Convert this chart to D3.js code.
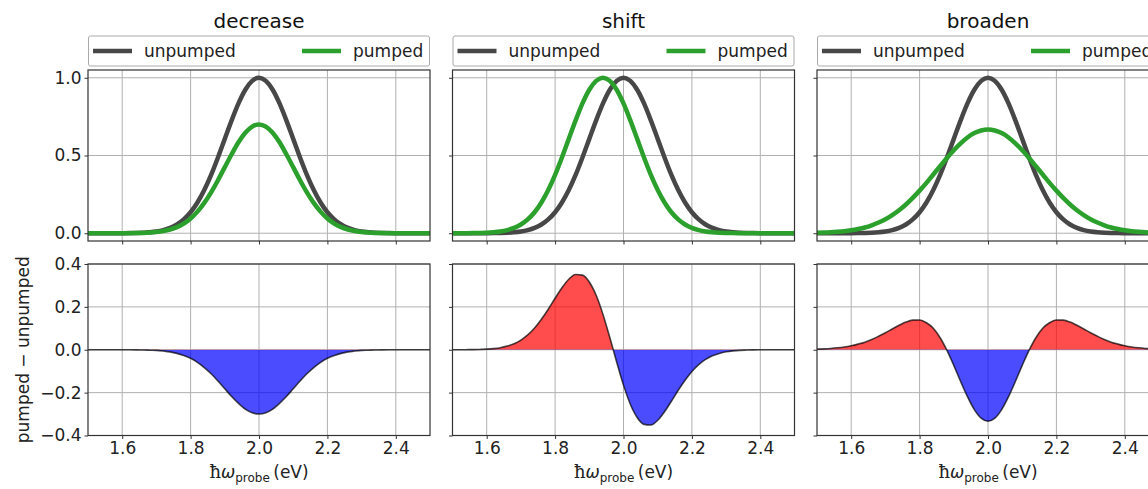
<!DOCTYPE html>
<html>
<head>
<meta charset="utf-8">
<script src="https://cdn.jsdelivr.net/npm/d3@7"></script>
<style>
  html, body { margin: 0; padding: 0; background: #fff; }
  svg { display: block; font-family: "DejaVu Sans", sans-serif; }
</style>
</head>
<body>
<svg id="fig" width="1148" height="489"></svg>
<script>
// Photon energy grid (eV)
const energy = d3.range(0, 51).map(i => +(1.5 + 0.02 * i).toFixed(2));

const titles = ["decrease", "shift", "broaden"];
const seriesNames = ["unpumped", "pumped"];
const xTicks = [1.6, 1.8, 2.0, 2.2, 2.4];
const topTicks = [0.0, 0.5, 1.0];
const diffTicks = [-0.4, -0.2, 0.0, 0.2, 0.4];

// Reference absorption line (same in every panel)
const unpumped = [0,0,0,0,0,0.0003,0.0007,0.0015,0.003,0.006,0.011,0.020,0.034,0.056,0.089,0.135,0.198,0.278,0.375,0.487,0.607,0.726,0.835,0.923,0.980,1.000,0.980,0.923,0.835,0.726,0.607,0.487,0.375,0.278,0.198,0.135,0.089,0.056,0.034,0.020,0.011,0.006,0.003,0.0015,0.0007,0.0003,0,0,0,0,0];

// Pumped line: reduced amplitude
const pumpedDecrease = [0,0,0,0,0,0.0002,0.0005,0.001,0.002,0.004,0.008,0.014,0.024,0.039,0.062,0.095,0.139,0.195,0.263,0.341,0.425,0.508,0.585,0.646,0.686,0.700,0.686,0.646,0.585,0.508,0.425,0.341,0.263,0.195,0.139,0.095,0.062,0.039,0.024,0.014,0.008,0.004,0.002,0.001,0.0005,0.0002,0,0,0,0,0];

// Pumped line: red-shifted centre
const pumpedShift = [0,0,0.0003,0.0007,0.0015,0.003,0.006,0.011,0.020,0.034,0.056,0.089,0.135,0.198,0.278,0.375,0.487,0.607,0.726,0.835,0.923,0.980,1.000,0.980,0.923,0.835,0.726,0.607,0.487,0.375,0.278,0.198,0.135,0.089,0.056,0.034,0.020,0.011,0.006,0.003,0.0015,0.0007,0.0003,0,0,0,0,0,0,0,0];

// Pumped line: broadened, same area
const pumpedBroaden = [0.003,0.004,0.006,0.009,0.013,0.019,0.027,0.037,0.051,0.069,0.090,0.117,0.148,0.185,0.227,0.274,0.324,0.378,0.431,0.484,0.534,0.578,0.616,0.644,0.661,0.667,0.661,0.644,0.616,0.578,0.534,0.484,0.431,0.378,0.324,0.274,0.227,0.185,0.148,0.117,0.090,0.069,0.051,0.037,0.027,0.019,0.013,0.009,0.006,0.004,0.003];

const pumpedSets = [pumpedDecrease, pumpedShift, pumpedBroaden];

const svg = d3.select("#fig");
const colLeft = [88, 452.5, 817];
const panelW = 342;
const topY = [70, 241];
const botY = [264, 435.5];

const grey = "#474747", green = "#2ca02c";

titles.forEach((title, c) => {
  const x0 = colLeft[c];
  const x = d3.scaleLinear().domain([1.5, 2.5]).range([x0, x0 + panelW]);
  const yTop = d3.scaleLinear().domain([-0.05, 1.05]).range([topY[1], topY[0]]);
  const yBot = d3.scaleLinear().domain([-0.4, 0.4]).range([botY[1], botY[0]]);
  const pumped = pumpedSets[c];
  const diff = energy.map((e, i) => pumped[i] - unpumped[i]);

  const clipTop = "clipTop" + c, clipBot = "clipBot" + c;
  const defs = svg.append("defs");
  defs.append("clipPath").attr("id", clipTop).append("rect")
    .attr("x", x0).attr("y", topY[0]).attr("width", panelW).attr("height", topY[1] - topY[0]);
  defs.append("clipPath").attr("id", clipBot).append("rect")
    .attr("x", x0).attr("y", botY[0]).attr("width", panelW).attr("height", botY[1] - botY[0]);
  defs.append("clipPath").attr("id", "pos" + c).append("rect")
    .attr("x", x0).attr("y", botY[0]).attr("width", panelW).attr("height", yBot(0) - botY[0]);
  defs.append("clipPath").attr("id", "neg" + c).append("rect")
    .attr("x", x0).attr("y", yBot(0)).attr("width", panelW).attr("height", botY[1] - yBot(0));

  // ---- title
  svg.append("text").attr("x", x0 + panelW / 2).attr("y", 28)
    .attr("text-anchor", "middle").attr("font-size", 20).attr("fill", "#111").text(title);

  // ---- legend
  const lg = svg.append("g");
  lg.append("rect").attr("x", x0 + 0.5).attr("y", 36).attr("width", panelW - 1).attr("height", 30)
    .attr("rx", 2).attr("fill", "#fff").attr("stroke", "#aaa").attr("stroke-width", 1);
  [[grey, seriesNames[0], 5], [green, seriesNames[1], 214]].forEach(([col, name, off]) => {
    lg.append("line").attr("x1", x0 + off).attr("x2", x0 + off + 39)
      .attr("y1", 51).attr("y2", 51).attr("stroke", col).attr("stroke-width", 4.5);
    lg.append("text").attr("x", x0 + off + 51).attr("y", 57).attr("font-size", 17)
      .attr("fill", "#222").text(name);
  });

  // ---- top panel
  const gT = svg.append("g");
  gT.selectAll(".gx").data(xTicks).join("line")
    .attr("x1", d => x(d)).attr("x2", d => x(d)).attr("y1", topY[0]).attr("y2", topY[1])
    .attr("stroke", "#b0b0b0").attr("stroke-width", 1);
  gT.selectAll(".gy").data(topTicks).join("line")
    .attr("x1", x0).attr("x2", x0 + panelW).attr("y1", d => yTop(d)).attr("y2", d => yTop(d))
    .attr("stroke", "#b0b0b0").attr("stroke-width", 1);

  const lineTop = d3.line().x((d, i) => x(energy[i])).y(d => yTop(d)).curve(d3.curveMonotoneX);
  const curves = gT.append("g").attr("clip-path", `url(#${clipTop})`);
  curves.append("path").datum(unpumped).attr("d", lineTop).attr("fill", "none")
    .attr("stroke", grey).attr("stroke-width", 4.5);
  curves.append("path").datum(pumped).attr("d", lineTop).attr("fill", "none")
    .attr("stroke", green).attr("stroke-width", 4.5);

  // axes (ticks only, frame drawn separately)
  gT.append("g").attr("transform", `translate(${x0},0)`)
    .call(d3.axisLeft(yTop).tickValues(topTicks).tickSize(3.5).tickFormat(c === 0 ? d3.format(".1f") : ""));
  gT.append("g").attr("transform", `translate(0,${topY[1]})`)
    .call(d3.axisBottom(x).tickValues(xTicks).tickSize(3.5).tickFormat(""));
  gT.append("rect").attr("x", x0).attr("y", topY[0]).attr("width", panelW).attr("height", topY[1] - topY[0])
    .attr("fill", "none").attr("stroke", "#333").attr("stroke-width", 1.2);

  // ---- bottom panel
  const gB = svg.append("g");
  gB.selectAll(".gx").data(xTicks).join("line")
    .attr("x1", d => x(d)).attr("x2", d => x(d)).attr("y1", botY[0]).attr("y2", botY[1])
    .attr("stroke", "#b0b0b0").attr("stroke-width", 1);
  gB.selectAll(".gy").data(diffTicks).join("line")
    .attr("x1", x0).attr("x2", x0 + panelW).attr("y1", d => yBot(d)).attr("y2", d => yBot(d))
    .attr("stroke", "#b0b0b0").attr("stroke-width", 1);

  const area = d3.area().x((d, i) => x(energy[i])).y0(yBot(0)).y1(d => yBot(d)).curve(d3.curveMonotoneX);
  const lineBot = d3.line().x((d, i) => x(energy[i])).y(d => yBot(d)).curve(d3.curveMonotoneX);
  const fills = gB.append("g").attr("clip-path", `url(#${clipBot})`);
  fills.append("g").attr("clip-path", `url(#pos${c})`).append("path").datum(diff)
    .attr("d", area).attr("fill", "#ff0000").attr("fill-opacity", 0.7);
  fills.append("g").attr("clip-path", `url(#neg${c})`).append("path").datum(diff)
    .attr("d", area).attr("fill", "#0000ff").attr("fill-opacity", 0.7);
  fills.append("path").datum(diff).attr("d", lineBot).attr("fill", "none")
    .attr("stroke", "#000").attr("stroke-opacity", 0.7).attr("stroke-width", 1.6);

  gB.append("g").attr("transform", `translate(${x0},0)`)
    .call(d3.axisLeft(yBot).tickValues(diffTicks).tickSize(3.5).tickFormat(c === 0 ? (d => d3.format(".1f")(d).replace("-", "\u2212")) : ""));
  gB.append("g").attr("transform", `translate(0,${botY[1]})`)
    .call(d3.axisBottom(x).tickValues(xTicks).tickSize(3.5).tickFormat(d3.format(".1f")));
  gB.append("rect").attr("x", x0).attr("y", botY[0]).attr("width", panelW).attr("height", botY[1] - botY[0])
    .attr("fill", "none").attr("stroke", "#333").attr("stroke-width", 1.2);

  // x label: ħω_probe (eV)
  const xl = svg.append("text").attr("x", x0 + panelW / 2).attr("y", 478)
    .attr("text-anchor", "middle").attr("font-size", 17).attr("fill", "#222");
  xl.append("tspan").attr("font-family", "DejaVu Serif, serif").attr("font-size", 18).text("\u0127");
  xl.append("tspan").attr("font-style", "italic").text("\u03C9");
  xl.append("tspan").attr("font-size", 12).attr("dy", 4).text("probe");
  xl.append("tspan").attr("dy", -4).text("\u2009(eV)");
});

// shared axis styling
svg.selectAll(".domain").remove();
svg.selectAll(".tick line").attr("stroke", "#333").attr("stroke-width", 1);
svg.selectAll(".tick text").attr("font-size", 17).attr("fill", "#222")
  .attr("font-family", "DejaVu Sans, sans-serif");

// y label for the difference row
svg.append("text")
  .attr("transform", `translate(29,${(botY[0] + botY[1]) / 2}) rotate(-90)`)
  .attr("text-anchor", "middle").attr("font-size", 17).attr("fill", "#222")
  .text("pumped \u2212 unpumped");
</script>
</body>
</html>
